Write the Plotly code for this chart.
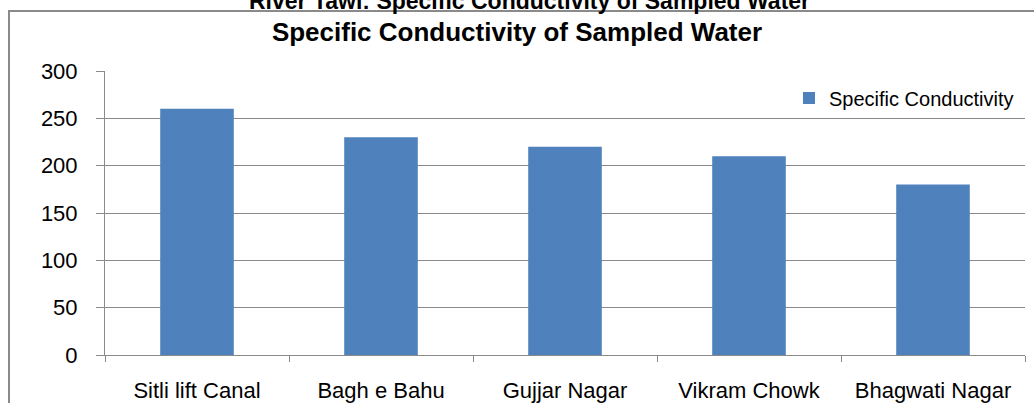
import plotly.graph_objects as go

categories = ["Sitli lift Canal", "Bagh e Bahu", "Gujjar Nagar", "Vikram Chowk", "Bhagwati Nagar"]
values = [260, 230, 220, 210, 180]
series_name = "Specific Conductivity"
y_ticks = [0, 50, 100, 150, 200, 250, 300]
top_title = "River Tawi: Specific Conductivity of Sampled Water"
chart_title = "Specific Conductivity of Sampled Water"

FONT = "Arial, Liberation Sans, sans-serif"
GRAY = "#8a8a8a"

fig = go.Figure()
fig.add_trace(go.Bar(
    x=categories, y=values, name=series_name,
    marker=dict(color="#4F81BD", line=dict(width=0)),
    showlegend=True,
))

fig.update_layout(
    width=1034, height=403,
    margin=dict(l=105, r=9, t=71, b=48, autoexpand=False),
    paper_bgcolor="white", plot_bgcolor="white",
    font=dict(family=FONT, color="black"),
    bargap=0.6,
    title=dict(text="<b>" + chart_title + "</b>", x=0.5, xref="container", xanchor="center",
               y=1 - 32 / 403, yref="container", yanchor="middle",
               font=dict(size=26, family=FONT, color="black")),
    legend=dict(x=1.0 - 6 / 920, xanchor="right", y=0.905, yanchor="middle",
                font=dict(size=20, family=FONT, color="black"),
                bgcolor="rgba(0,0,0,0)", itemwidth=30),
    xaxis=dict(showline=True, linecolor=GRAY, linewidth=1, ticks="outside", tickson="boundaries",
               ticklen=6, tickcolor=GRAY, tickwidth=1, ticklabelstandoff=16, automargin=False,
               tickfont=dict(size=22, family=FONT, color="black"), showgrid=False,
               fixedrange=True),
    yaxis=dict(range=[0, 300], tickvals=y_ticks, showline=True, linecolor=GRAY, linewidth=1,
               ticks="outside", ticklen=8, tickcolor=GRAY, tickwidth=1, ticklabelstandoff=14,
               automargin=False,
               tickfont=dict(size=22, family=FONT, color="black"),
               showgrid=True, gridcolor=GRAY, gridwidth=1, zeroline=False, fixedrange=True),
    shapes=[dict(type="rect", xref="paper", yref="paper",
                 x0=(9 - 105) / 920, x1=1.05, y0=-0.3, y1=1 + (71 - 11) / 284,
                 line=dict(color=GRAY, width=2), layer="below")],
    annotations=[dict(text="<b>" + top_title + "</b>", xref="paper", yref="paper",
                      x=(529 - 105) / 920, y=1 + (71 - 1) / 284, xanchor="center", yanchor="middle",
                      showarrow=False, font=dict(size=23, family=FONT, color="black"))],
)

fig.write_html("out.html", config={"displayModeBar": False},
               post_script="document.body.style.margin='0';document.body.style.overflow='hidden';")
